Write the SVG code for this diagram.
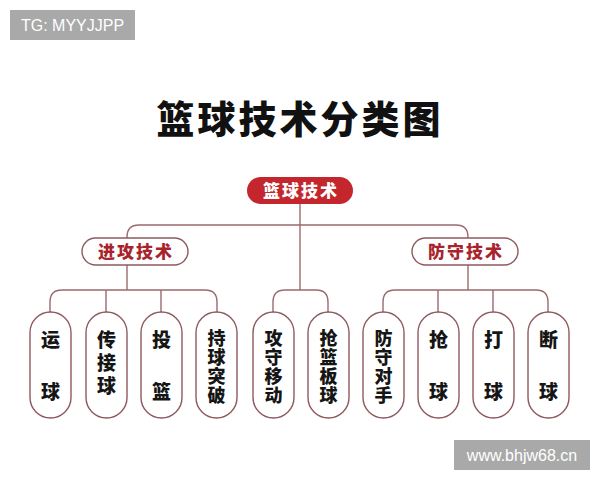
<svg xmlns="http://www.w3.org/2000/svg" width="600" height="480" viewBox="0 0 600 480">
<style>
.wm{fill:#a9a9a9}
.wmt{font-family:"Liberation Sans",Arial,sans-serif;font-size:16px;fill:#ffffff}
.cjk{font-family:"Noto Sans CJK SC","Noto Sans",sans-serif;font-weight:900}
.title{font-size:38px;fill:#111;letter-spacing:3px}
.root{fill:#c4262d}
.roott{font-size:17px;fill:#fff;letter-spacing:2px}
.l2{fill:#fff;stroke:#8e5a5f;stroke-width:1.4}
.l2t{font-size:17px;fill:#a8242c;letter-spacing:2px}
.l3{fill:#fff;stroke:#8e5a5f;stroke-width:1.4}
.v{writing-mode:vertical-rl;fill:#151515}
.v2{font-size:19px;letter-spacing:33px}
.v3{font-size:19px;letter-spacing:4px}
.v4{font-size:18px;letter-spacing:1px}
.conn{fill:none;stroke:#9a6a6e;stroke-width:1.4}
</style>
<rect width="600" height="480" fill="#ffffff"/>
<g id="wm-tg"><rect class="wm" x="10" y="10" width="125" height="30"/><text class="wmt" x="72.5" y="31" text-anchor="middle">TG: MYYJJPP</text></g>
<text class="cjk title" x="300" y="133" text-anchor="middle">篮球技术分类图</text>
<g id="connectors">
<path class="conn" d="M300,203 V290"/>
<path class="conn" d="M127,238 V237 Q127,225 139,225 H456 Q468,225 468,237 V238"/>
<path class="conn" d="M127,265 V290"/>
<path class="conn" d="M50,312 V302 Q50,290 62,290 H205 Q217,290 217,302 V312"/>
<path class="conn" d="M106,290 V312 M161,290 V312"/>
<path class="conn" d="M273,312 V302 Q273,290 285,290 H316 Q328,290 328,302 V312"/>
<path class="conn" d="M468,265 V290"/>
<path class="conn" d="M383,312 V302 Q383,290 395,290 H536 Q548,290 548,302 V312"/>
<path class="conn" d="M438,290 V312 M493,290 V312"/>
</g>
<g id="root"><rect class="root" x="247" y="177" width="106" height="27" rx="13.5"/><text class="cjk roott" x="301" y="196.5" text-anchor="middle">篮球技术</text></g>
<g id="attack"><rect class="l2" x="82" y="238" width="106" height="27" rx="13.5"/><text class="cjk l2t" x="136" y="258" text-anchor="middle">进攻技术</text></g>
<g id="defense"><rect class="l2" x="412" y="238" width="106" height="27" rx="13.5"/><text class="cjk l2t" x="466" y="258" text-anchor="middle">防守技术</text></g>
<g id="n1"><rect class="l3" x="30" y="312" width="41" height="106" rx="20.5"/><text class="cjk v v2" x="50.5" y="330.5">运球</text></g>
<g id="n2"><rect class="l3" x="86" y="312" width="41" height="106" rx="20.5"/><text class="cjk v v3" x="106.5" y="330.5">传接球</text></g>
<g id="n3"><rect class="l3" x="141" y="312" width="41" height="106" rx="20.5"/><text class="cjk v v2" x="161.5" y="330.5">投篮</text></g>
<g id="n4"><rect class="l3" x="196" y="312" width="41" height="106" rx="20.5"/><text class="cjk v v4" x="216.5" y="329">持球突破</text></g>
<g id="n5"><rect class="l3" x="253" y="312" width="41" height="106" rx="20.5"/><text class="cjk v v4" x="273.5" y="329">攻守移动</text></g>
<g id="n6"><rect class="l3" x="308" y="312" width="41" height="106" rx="20.5"/><text class="cjk v v4" x="328.5" y="329">抢篮板球</text></g>
<g id="n7"><rect class="l3" x="363" y="312" width="41" height="106" rx="20.5"/><text class="cjk v v4" x="383.5" y="329">防守对手</text></g>
<g id="n8"><rect class="l3" x="418" y="312" width="41" height="106" rx="20.5"/><text class="cjk v v2" x="438.5" y="330.5">抢球</text></g>
<g id="n9"><rect class="l3" x="473" y="312" width="41" height="106" rx="20.5"/><text class="cjk v v2" x="493.5" y="330.5">打球</text></g>
<g id="n10"><rect class="l3" x="528" y="312" width="41" height="106" rx="20.5"/><text class="cjk v v2" x="548.5" y="330.5">断球</text></g>
<g id="wm-url"><rect class="wm" x="454" y="440" width="136" height="30"/><text class="wmt" x="522" y="461" text-anchor="middle">www.bhjw68.cn</text></g>
</svg>
